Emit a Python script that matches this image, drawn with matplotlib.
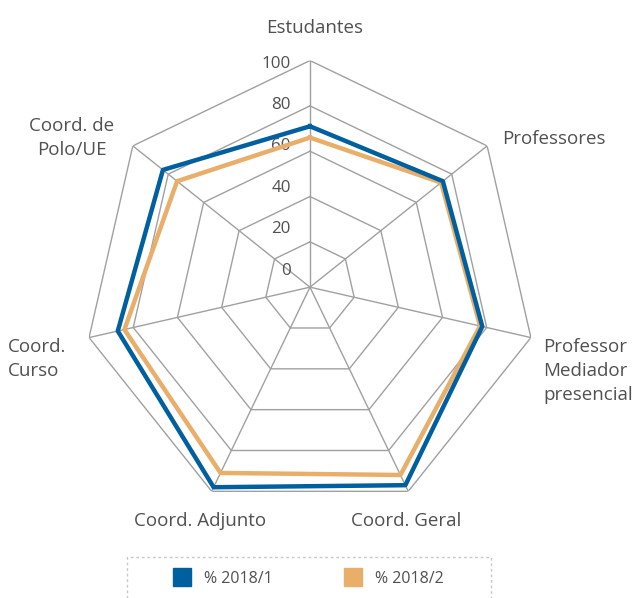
import numpy as np
import matplotlib
matplotlib.use("Agg")
from matplotlib import pyplot as plt
from matplotlib.lines import Line2D
from matplotlib.patches import Rectangle

categorias = ["Estudantes", "Professores", "Professor\nMediador\npresencial",
              "Coord. Geral", "Coord. Adjunto", "Coord.\nCurso", "Coord. de\nPolo/UE"]
serie_2018_1 = [71, 75, 78, 97, 98, 87, 83]
serie_2018_2 = [66, 74, 77, 92, 91, 84, 75]
ticks = [0, 20, 40, 60, 80, 100]

azul = "#005F9E"
laranja = "#E8AE6A"
cinza = "#A0A0A0"
texto = "#505050"

plt.rcParams['font.family'] = ['Open Sans', 'DejaVu Sans']

fig = plt.figure(figsize=(6.35, 5.98), dpi=100)
ax = fig.add_axes([0.1313, 0.1408, 0.7137, 0.758], projection="polar")
ax.set_theta_offset(np.pi / 2)
ax.set_theta_direction(-1)
ax.set_ylim(0, 100)
ax.axis("off")

n = len(categorias)
ang = np.linspace(0, 2 * np.pi, n, endpoint=False)
ang_f = np.append(ang, ang[0])

# grade poligonal
for t in ticks[1:]:
    ax.plot(ang_f, [t] * (n + 1), color=cinza, lw=1, zorder=1)
for a in ang:
    ax.plot([a, a], [0, 100], color=cinza, lw=1, zorder=1)

# rotulos da escala (px -> pt: 0.72)
for t in ticks:
    ax.annotate(str(t), xy=(0, 5.43 + t * 0.9147), xytext=(-19 * 0.72, 0),
                textcoords="offset points", ha="right", va="baseline",
                fontsize=12.2, color=texto)

ax.plot(ang_f, serie_2018_2 + serie_2018_2[:1], color=laranja, lw=3.2, zorder=3)
ax.plot(ang_f, serie_2018_1 + serie_2018_1[:1], color=azul, lw=3.2, zorder=4)

# rotulos das categorias: deslocamento em px a partir da ponta do eixo
pos = [((5, -28), "center", "baseline", "center"),
       ((14.5, -2), "left", "baseline", "left"),
       ((12, 0.5), "left", "top", "left"),
       ((-2.4, 34.2), "center", "baseline", "center"),
       ((-11.2, 34.2), "center", "baseline", "center"),
       ((-22.4, 0.5), "right", "top", "left"),
       ((-18.8, -29), "right", "top", "center")]
for a, c, ((dx, dy), ha, va, ma) in zip(ang, categorias, pos):
    ax.annotate(c, xy=(a, 100), xytext=(dx * 0.72, -dy * 0.72),
                textcoords="offset points", ha=ha, va=va, multialignment=ma,
                fontsize=13.5, color=texto, linespacing=1.42)

# legenda
fig.patches.append(Rectangle((127 / 635, -0.01), 364 / 635, (598 - 557) / 598 + 0.01,
                             transform=fig.transFigure, fill=False,
                             edgecolor="#C8C8C8", ls=(0, (2, 2)), lw=1))
handles = [Line2D([], [], marker="s", ls="", color=azul, markersize=13),
           Line2D([], [], marker="s", ls="", color=laranja, markersize=13)]
fig.legend(handles, ["% 2018/1", "% 2018/2"], loc="center",
           bbox_to_anchor=(305 / 635, 1 - 579 / 598), ncol=2, frameon=False,
           fontsize=11.5, columnspacing=4.0, handletextpad=0.375, labelcolor=texto)

fig.savefig("out.png", dpi=100)
